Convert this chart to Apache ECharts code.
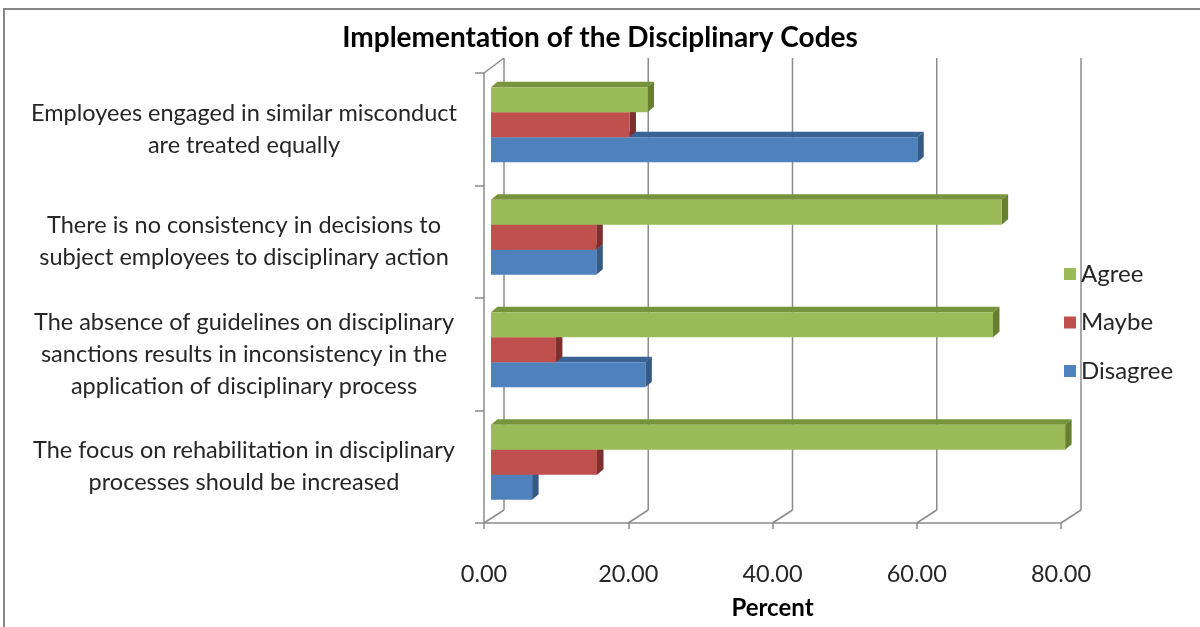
<!DOCTYPE html>
<html>
<head>
<meta charset="utf-8">
<script src="https://cdn.jsdelivr.net/npm/echarts@6/dist/echarts.min.js"></script>
<style>
  html, body { margin: 0; padding: 0; background: #fff; }
  #chart { width: 1200px; height: 627px; }
</style>
</head>
<body>
<div id="chart"></div>
<script>
const categories = [
  'Employees engaged in similar misconduct\nare treated equally',
  'There is no consistency in decisions to\nsubject employees to disciplinary action',
  'The absence of guidelines on disciplinary\nsanctions results in inconsistency in the\napplication of disciplinary process',
  'The focus on rehabilitation in disciplinary\nprocesses should be increased',
]
const agree = [21.7, 70.8, 69.6, 79.6]
const maybe = [19.2, 14.6, 9.0, 14.7]
const disagree = [59.1, 14.6, 21.4, 5.7]
const xTicks = [0, 20, 40, 60, 80]

const FONT = 'Lato, "Open Sans", sans-serif'

// pseudo 3d: back wall shift, bar depth offset, bar thickness in depth
const WALL = [20, -13]
const BAR_OFF = [7, -4.5]
const BAR_DEPTH = [6.5, -5.5]
const GRID_COLOR = '#8c8c8c'

function barRenderer(slot, front, top, side) {
  return function (params, api) {
    const cat = api.value(1)
    const base = api.coord([0, cat])
    const tip = api.coord([api.value(0), cat])
    const band = api.size([0, 1])[1]
    const h = band * 0.222
    const y = base[1] + BAR_OFF[1] - 1.5 * h + slot * h
    const x0 = base[0] + BAR_OFF[0]
    const x1 = tip[0] + BAR_OFF[0]
    const dx = BAR_DEPTH[0], dy = BAR_DEPTH[1]
    return {
      type: 'group',
      children: [
        { type: 'polygon', shape: { points: [[x0, y], [x0 + dx, y + dy], [x1 + dx, y + dy], [x1, y]] }, style: { fill: top } },
        { type: 'polygon', shape: { points: [[x1, y], [x1 + dx, y + dy], [x1 + dx, y + h + dy], [x1, y + h]] }, style: { fill: side } },
        { type: 'rect', shape: { x: x0, y: y, width: x1 - x0, height: h }, style: { fill: front } },
      ],
    }
  }
}

function wallRenderer(params, api) {
  const cs = params.coordSys
  const v = api.value(0)
  const x = api.coord([v, 0])[0]
  const top = cs.y, bottom = cs.y + cs.height
  const ls = { stroke: GRID_COLOR, lineWidth: 1.5 }
  const children = [
    { type: 'line', shape: { x1: x + WALL[0], y1: top + WALL[1] - 2, x2: x + WALL[0], y2: bottom + WALL[1] }, style: ls },
    { type: 'line', shape: { x1: x, y1: bottom, x2: x + WALL[0], y2: bottom + WALL[1] }, style: ls },
  ]
  if (v === 0) {
    children.push({ type: 'line', shape: { x1: x, y1: top, x2: x + WALL[0], y2: top + WALL[1] - 2 }, style: ls })
  }
  return { type: 'group', children }
}

const chart = echarts.init(document.getElementById('chart'), null, { renderer: 'canvas' })

chart.setOption({
  backgroundColor: '#fff',
  animation: false,
  title: {
    text: 'Implementation of the Disciplinary Codes',
    left: 'center',
    top: 24,
    padding: [0, 0, 0, 16],
    textStyle: { fontFamily: FONT, fontSize: 28, fontWeight: 'bold', color: '#000' },
  },
  legend: {
    orient: 'vertical',
    left: 1059,
    top: 257,
    icon: 'rect',
    itemWidth: 12,
    itemHeight: 12,
    itemGap: 24.5,
    data: ['Agree', 'Maybe', 'Disagree'],
    textStyle: { fontFamily: FONT, fontSize: 24, color: '#262626', lineHeight: 20 },
  },
  graphic: [
    {
      type: 'rect',
      shape: { x: 4, y: 9, width: 1220, height: 640 },
      style: { fill: 'none', stroke: '#888', lineWidth: 2 },
      silent: true,
    },
  ],
  grid: { left: 484, right: 139, top: 73, bottom: 104 },
  xAxis: {
    type: 'value',
    min: 0,
    max: 80,
    interval: 20,
    name: 'Percent',
    nameLocation: 'middle',
    nameGap: 73,
    nameTextStyle: { fontFamily: FONT, fontSize: 24, fontWeight: 'bold', color: '#000' },
    axisLine: { show: true, lineStyle: { color: GRID_COLOR, width: 1.5 } },
    axisTick: { show: true, length: 6, lineStyle: { color: GRID_COLOR, width: 1.5 } },
    axisLabel: {
      margin: 39,
      fontFamily: FONT,
      fontSize: 23.5,
      color: '#262626',
      formatter: v => v.toFixed(2),
    },
    splitLine: { show: false },
  },
  yAxis: {
    type: 'category',
    inverse: true,
    data: categories,
    axisLine: { show: true, lineStyle: { color: GRID_COLOR, width: 1.5 } },
    axisTick: { show: true, length: 9, lineStyle: { color: GRID_COLOR, width: 1.5 } },
    axisLabel: {
      align: 'center',
      margin: 240,
      padding: [6, 0, 0, 0],
      fontFamily: FONT,
      fontSize: 23.5,
      lineHeight: 32,
      color: '#262626',
    },
  },
  series: [
    {
      name: 'wall',
      type: 'custom',
      z: 1,
      silent: true,
      renderItem: wallRenderer,
      data: xTicks.map(v => [v]),
      encode: { x: 0 },
    },
    {
      name: 'Disagree',
      type: 'custom',
      z: 2,
      itemStyle: { color: '#4F81BD' },
      renderItem: barRenderer(2, '#4F81BD', '#3B6294', '#355A86'),
      data: disagree.map((v, i) => [v, i]),
      encode: { x: 0, y: 1 },
    },
    {
      name: 'Maybe',
      type: 'custom',
      z: 3,
      itemStyle: { color: '#C0504D' },
      renderItem: barRenderer(1, '#C0504D', '#933C39', '#7F2F2D'),
      data: maybe.map((v, i) => [v, i]),
      encode: { x: 0, y: 1 },
    },
    {
      name: 'Agree',
      type: 'custom',
      z: 4,
      itemStyle: { color: '#9BBB59' },
      renderItem: barRenderer(0, '#9BBB59', '#77933C', '#66802F'),
      data: agree.map((v, i) => [v, i]),
      encode: { x: 0, y: 1 },
    },
  ],
})
</script>
</body>
</html>
